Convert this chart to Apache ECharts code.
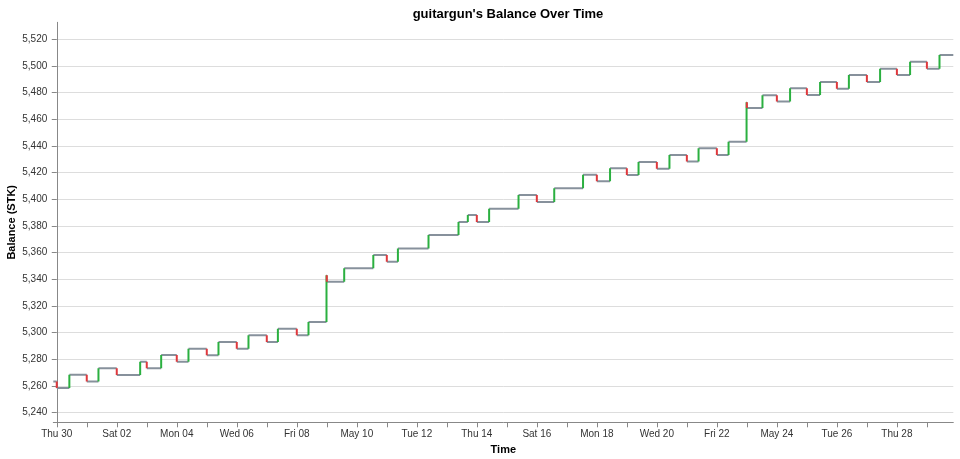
<!DOCTYPE html>
<html><head><meta charset="utf-8">
<script src="https://cdn.jsdelivr.net/npm/echarts@6/dist/echarts.min.js"></script>
<style>html,body{margin:0;padding:0;background:#fff}#c{width:960px;height:459px}</style>
</head><body><div id="c"></div>
<script>
// Days since Thu Apr 30 00:00 at which the balance changed
const changeDays = [-0.115, 0.0, 0.42, 1.0, 1.39, 2.0, 2.78, 3.0, 3.48, 4.0, 4.39, 5.0, 5.39, 6.0, 6.39, 7.0, 7.37, 8.0, 8.39,
  8.99, 9.0, 9.58, 10.55, 11.0, 11.37, 12.39, 13.39, 13.7, 14.0, 14.41, 15.39, 16.0, 16.58, 17.54, 18.0, 18.44, 19.0, 19.39,
  20.0, 20.42, 21.0, 21.39, 22.0, 22.39, 22.99, 23.0, 23.52, 24.0, 24.44, 25.0, 25.44, 26.0, 26.4, 27.0, 27.44, 28.0, 28.44,
  29.0, 29.42];
const balances = [5263.4, 5258.4, 5268.4, 5263.4, 5273.2, 5268.2, 5278.2, 5273.3, 5283.2, 5278.2, 5288.0, 5283.0, 5293.0, 5288.0, 5298.0, 5293.0, 5303.0, 5298.0, 5308.0,
  5343.0, 5338.2, 5348.2, 5358.3, 5353.2, 5363.1, 5373.2, 5383.0, 5388.2, 5383.0, 5393.0, 5403.2, 5398.0, 5408.2, 5418.5, 5413.5, 5423.3, 5418.3, 5428.0,
  5423.0, 5433.3, 5428.3, 5438.2, 5433.3, 5443.2, 5472.7, 5468.4, 5478.0, 5473.3, 5483.2, 5478.2, 5488.0, 5483.0, 5493.3, 5488.0, 5498.0, 5493.3, 5503.2,
  5498.0, 5508.2];
const endDay = 29.88;
const xTickDays = [0,1,2,3,4,5,6,7,8,9,10,11,12,13,14,15,16,17,18,19,20,21,22,23,24,25,26,27,28,29];
const xLabelDays = [0,2,4,6,8,10,12,14,16,18,20,22,24,26,28];
const xTickLabels = ["Thu 30","Sat 02","Mon 04","Wed 06","Fri 08","May 10","Tue 12","Thu 14","Sat 16","Mon 18","Wed 20","Fri 22","May 24","Tue 26","Thu 28"];
const yTicks = [5240,5260,5280,5300,5320,5340,5360,5380,5400,5420,5440,5460,5480,5500,5520];

const GRAY = '#87919c', GREEN = '#2bb040', RED = '#e0383d';

// horizontal segments [start, end, value]
const hSegs = [];
for (let i = 0; i < changeDays.length; i++) {
  const e = i + 1 < changeDays.length ? changeDays[i + 1] : endDay;
  hSegs.push([changeDays[i], e, balances[i]]);
}
// vertical segments [day, from, to]
const vSegs = [];
for (let i = 1; i < changeDays.length; i++) vSegs.push([changeDays[i], balances[i - 1], balances[i]]);

const chart = echarts.init(document.getElementById('c'), null, {renderer: 'canvas'});
const FONT = 'Liberation Sans, Arial, sans-serif';
const axisFont = {fontFamily: FONT, fontSize: 10, color: '#333'};
chart.setOption({
  animation: false,
  title: {text: "guitargun's Balance Over Time", left: 503, top: 3, textAlign: 'center',
    textStyle: {fontFamily: FONT, fontSize: 13, fontWeight: 'bold', color: '#000'}},
  graphic: [{
    type: 'text', x: 12, y: 222.3, rotation: Math.PI / 2,
    style: {text: 'Balance (STK)', fontFamily: FONT, fontSize: 11, fontWeight: 'bold', fill: '#000',
      align: 'center', verticalAlign: 'middle'}
  }],
  grid: {left: 53.3, right: 6.7, top: 22.3, bottom: 36.7, containLabel: false, outerBoundsMode: 'none'},
  xAxis: {
    type: 'value', min: -0.115, max: endDay,
    name: 'Time', nameLocation: 'middle', nameGap: 21,
    nameTextStyle: {fontFamily: FONT, fontSize: 11, fontWeight: 'bold', color: '#000'},
    axisLine: {show: true, lineStyle: {color: '#888', width: 1}},
    axisTick: {show: true, length: 5, lineStyle: {color: '#888'}, customValues: xTickDays},
    axisLabel: Object.assign({customValues: xLabelDays, margin: 7,
      formatter: v => xTickLabels[Math.round(v / 2)] || ''}, axisFont),
    splitLine: {show: false}
  },
  yAxis: {
    type: 'value', min: 5232.75, max: 5532.75,
    axisLine: {show: true, lineStyle: {color: '#888', width: 1}},
    axisTick: {show: true, length: 5, lineStyle: {color: '#888'}, customValues: yTicks},
    axisLabel: Object.assign({customValues: yTicks, margin: 6,
      formatter: v => v.toLocaleString('en-US')}, axisFont),
    splitLine: {show: true, lineStyle: {color: '#ddd', width: 1}}
  },
  series: [
    {
      type: 'custom', name: 'level', data: hSegs, clip: true, z: 2,
      renderItem: (params, api) => {
        const a = api.coord([api.value(0), api.value(2)]);
        const b = api.coord([api.value(1), api.value(2)]);
        return {type: 'line', shape: {x1: a[0], y1: a[1], x2: b[0], y2: b[1]},
          style: {stroke: GRAY, lineWidth: 2}};
      }
    },
    {
      type: 'custom', name: 'change', data: vSegs, clip: true, z: 3,
      renderItem: (params, api) => {
        const a = api.coord([api.value(0), api.value(1)]);
        const b = api.coord([api.value(0), api.value(2)]);
        const up = api.value(2) > api.value(1);
        return {type: 'line', shape: {x1: a[0], y1: a[1], x2: b[0], y2: b[1]},
          style: {stroke: up ? GREEN : RED, lineWidth: 2}};
      }
    }
  ]
});
</script></body></html>
